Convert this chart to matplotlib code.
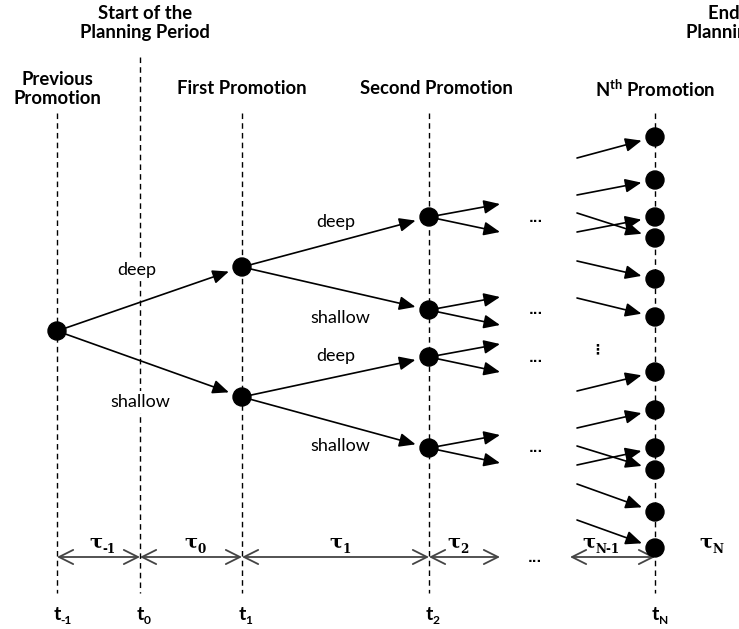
import matplotlib
matplotlib.use("Agg")
import matplotlib.pyplot as plt

plt.rcParams['font.family'] = ['Lato', 'DejaVu Sans']
plt.rcParams['mathtext.fontset'] = 'custom'
plt.rcParams['mathtext.rm'] = 'Lato'
plt.rcParams['mathtext.bf'] = 'Lato:bold'
plt.rcParams['mathtext.it'] = 'Lato:italic'

# diagram layout (pixel coordinates of the reference)
stage_x = [57, 140, 242, 429, 655]
stage_names = ['-1', '0', '1', '2', 'N']
line_top = [113, 57, 113, 113, 113]
root_y = 331
t1_y = [267, 397]
t2_y = [217, 310, 357, 448]
t2_parent = [0, 0, 1, 1]
branch_lbl = ['deep', 'shallow']
tN_y = [137, 180, 217, 238, 279, 317, 372, 410, 448, 470, 512, 548]
tN_from_y = [158, 195, 232, 213, 261, 298, 391, 428, 465, 446, 484, 520]
out_dy = [-13, 15]

timeline_y = 557
tau_names = ['-1', '0', '1', '2', 'N-1', 'N']
tau_spans = [(57, 140), (140, 242), (242, 429), (429, 500), (570, 655), (655, 745)]
tau_x = [96, 191, 336, 454, 589, 706]

fig = plt.figure(figsize=(7.39, 6.29), dpi=100)
ax = fig.add_axes([0, 0, 1, 1])
ax.set_xlim(0, 739)
ax.set_ylim(629, 0)
ax.axis('off')

R = 9
bold = dict(fontsize=13.3, fontweight='bold', ha='center', va='center')
plain = dict(fontsize=13, ha='center', va='center',
             bbox=dict(boxstyle='square,pad=0.15', fc='white', ec='none'), zorder=3)

# dashed stage lines
for x, top in zip(stage_x, line_top):
    ax.plot([x, x], [top, 593], ls=(0, (4, 3)), color='black', lw=1, zorder=1)


def arrow(x0, y0, x1, y1, shrink=0):
    ax.annotate('', xy=(x1, y1), xytext=(x0, y0), zorder=4,
                arrowprops=dict(arrowstyle='-|>,head_length=0.7,head_width=0.3',
                                color='black', lw=1.2, shrinkA=0, shrinkB=shrink,
                                mutation_scale=14))


def node(x, y):
    ax.add_patch(plt.Circle((x, y), R, color='black', zorder=5))


def sub_text(x, y, main, sub, size, family):
    t = ax.text(x, y, main, fontsize=size, fontweight='bold', ha='center',
                va='baseline', family=family)
    ax.annotate(sub, xy=(1, 0), xycoords=t, xytext=(0, -1), textcoords='offset points',
                fontsize=size * 0.62, fontweight='bold', ha='left', va='baseline',
                family=family)


# tree
node(stage_x[0], root_y)
for i, y in enumerate(t1_y):
    arrow(stage_x[0], root_y, stage_x[2], y, shrink=R + 1)
    node(stage_x[2], y)
ax.text(137, 270, branch_lbl[0], **plain)
ax.text(140, 402, branch_lbl[1], **plain)

lbl_pos = [(336, 222), (340, 318), (336, 356), (340, 446)]
for k, (y, p) in enumerate(zip(t2_y, t2_parent)):
    arrow(stage_x[2], t1_y[p], stage_x[3], y, shrink=R + 1)
    node(stage_x[3], y)
    ax.text(lbl_pos[k][0], lbl_pos[k][1], branch_lbl[k % 2], **plain)
    for d in out_dy:
        arrow(stage_x[3], y, 500, y + d)
    ax.text(536, y + 1, '...', fontsize=9, fontweight='bold', ha='center', va='center',
            family=['DejaVu Sans'])

ax.text(597, 349, '⋮', fontsize=10, fontweight='bold', ha='center', va='center',
        family=['DejaVu Sans'])

for y, y0 in zip(tN_y, tN_from_y):
    arrow(577, y0, stage_x[4], y, shrink=R + 1)
    node(stage_x[4], y)

# timeline
for (a, b), name, tx in zip(tau_spans, tau_names, tau_x):
    ax.annotate('', xy=(b, timeline_y), xytext=(a, timeline_y),
                arrowprops=dict(arrowstyle='<->,head_length=0.6,head_width=0.3',
                                color='#444444', lw=1.3, shrinkA=0, shrinkB=0,
                                mutation_scale=17))
    sub_text(tx, 548, 'τ', name, 14, ['DejaVu Serif'])
ax.text(535, 558, '...', fontsize=9, fontweight='bold', ha='center', va='center',
        family=['DejaVu Sans'])

for x, name in zip(stage_x, stage_names):
    sub_text(x, 620, 't', name, 14, ['Lato', 'DejaVu Sans'])
sub_text(750, 620, 't', 'N+1', 14, ['Lato', 'DejaVu Sans'])

# headers
ax.text(145, 23, 'Start of the\nPlanning Period', linespacing=1.2, **bold)
ax.text(751, 23, 'End of the\nPlanning Period', linespacing=1.2, **bold)
ax.text(57, 89, 'Previous\nPromotion', linespacing=1.2, **bold)
ax.text(242, 89, 'First Promotion', **bold)
ax.text(436, 89, 'Second Promotion', **bold)
ax.text(655, 89, r'$\mathbf{N^{th}}$ Promotion', **bold)

fig.savefig('out.png', dpi=100)
